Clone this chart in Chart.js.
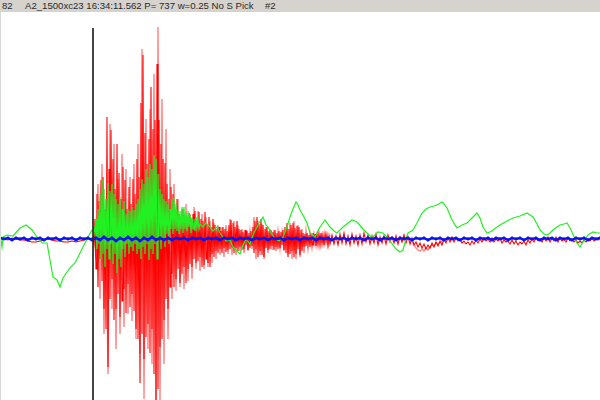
<!DOCTYPE html>
<html>
<head>
<meta charset="utf-8">
<script src="https://cdn.jsdelivr.net/npm/chart.js@4/dist/chart.umd.min.js"></script>
<style>
  html, body { margin: 0; padding: 0; background: #ffffff; }
  #wrap { position: relative; width: 600px; height: 400px; overflow: hidden; }
  #hdr { position: absolute; left: 0; top: 0; width: 600px; height: 12px; background: #d6d3ce;
         font-family: "Liberation Sans", Arial, sans-serif; font-size: 9.6px; color: #2a2a2a; }
  #hdr span { position: absolute; top: 0px; line-height: 12px; white-space: pre; }
  #plot { position: absolute; left: 0; top: 12px; width: 600px; height: 388px; }
  #edge { position: absolute; left: 0; top: 12px; width: 1px; height: 388px; background: #d8d8d8; }
  canvas { display: block; }
</style>
</head>
<body>
<div id="wrap">
  <div id="hdr"><span id="h1" style="left:2px"></span><span id="h2" style="left:25px"></span><span id="h3" style="left:265px"></span></div>
  <div id="plot"><canvas id="c" width="600" height="388"></canvas></div>
  <div id="edge"></div>
</div>
<script>
// ---- header texts ----
const headerTexts = ["82", "A2_1500xc23 16:34:11.562 P= 737 w=0.25 No S Pick", "#2"];

// ---- time axis (samples) ----
const timeMin = 0, timeMax = 600;
const ampMin = -161, ampMax = 227;

// P pick marker
const pickTime = [93, 93];
const pickAmp = [211, -161];

// ---- red trace (bright) ----
const redPreStart = 0, redPreStep = 4;
const redPre = [1,0,-1,1,0,-1,-1,-2,-3,-3,-2,-1,0,-1,-2,-2,-3,-3,-2,-3,-2,-1,0,1];
const redMainStart = 93, redMainStep = 1;
const redMain = [
  2,-4,20,-30,45,-48,38,-20,59,-42,
  62,-70,30,-90,122,-128,70,-60,109,-40,
  80,-81,50,-70,95,-55,66,-78,40,-62,
  72,-50,59,-74,30,-45,52,-68,35,-55,
  60,-72,45,-90,80,-100,62,-144,136,-95,
  184,-120,106,-98,75,-85,100,-114,152,-90,
  110,-135,119,-161,175,-150,119,-108,95,-100,
  80,-81,76,-60,55,-70,40,-48,52,-35,
  45,-48,30,-40,40,-30,25,-44,19,-35,
  30,-28,22,-44,18,-30,26,-25,20,-28,
  25,-20,28,-24,15,-22,27,-18,20,-28,
  18,-26,27,-20,15,-24,22,-28,12,-15,
  20,-18,14,-12,10,-14,12,-10,8,-14,
  12,-9,10,-13,8,-11,14,-10,19,-8,
  16,-14,12,-9,18,-12,10,-8,9,-11,
  7,-10,9,-6,8,-11,6,-9,8,-7,
  12,-14,18,-10,22,-18,15,-12,20,-16,
  14,-18,10,-9,12,-11,8,-10,9,-7,
  7,-11,9,-8,6,-10,8,-9,7,-6,
  9,-11,12,-14,16,-18,10,-15,14,-12,
  16,-18,11,-15,13,-10,12,-16,9,-12,
  6,-8,5,-7,6,-5,4,-8,5,-6,
  6,-4,5,-7,3,-6,5,-4,6,-5,
  4,-6,5,-3,4,-6,3,-5
];
const redTailStart = 332, redTailStep = 2;
const redTail = [
  4,-5,3,-6,5,-4,6,-5,3,-6,
  5,-4,3,-6,4,-5,6,-3,4,-5,
  3,-4,5,-6,2,-4,3,-5,4,-3,
  2,-4,3,-5,2,-3,4,-4,2,-5,
  1,-6,-3,-8,-4,-9,-5,-10,-6,-9,
  -4,-8,-3,-7,-2,-6,0,-4,1,-3,
  2,-3,1,-2,0,-4,-2,-5,-3,-6,
  -2,-5,-1,-4,0,-3,1,-2,0,-3,
  1,-3,0,-2,1,-4,-1,-3,-2,-5,
  -1,-5,-2,-6,-3,-5,-2,-6,-1,-4,
  0,-3,1,-2,0,-3,1,-2,2,-3,
  1,-2,2,-3,1,-2,0,-3,1,-2,
  0,-3,-1,-4,-2,-4,-1,-3,0,-2,
  1,-2,0,-1,1
];

// ---- pink trace (light red) ----
const pinkMainStart = 94, pinkMainStep = 2;
const pinkMain = [
  10,-20,55,-60,75,-95,40,-135,115,-70,
  95,-110,60,-95,85,-88,70,-75,62,-82,
  75,-100,95,-115,190,-160,120,-110,130,-125,
  165,-161,212,-161,140,-125,110,-100,70,-60,
  55,-52,40,-48,30,-50,35,-42,25,-40,
  32,-30,28,-32,25,-30,22,-28,18,-24,
  16,-20,14,-16,12,-18,14,-15,20,-16,
  18,-16,14,-12,10,-14,9,-12,8,-10,
  22,-20,18,-16,15,-20,12,-14,10,-11,
  9,-12,8,-10,7,-12,10,-15,16,-20,
  18,-20,14,-18,10,-14,8,-10,6,-9,
  5,-7,6,-8,4,-6,5,-7,4
];
const pinkTailStart = 412, pinkTailStep = 2;
const pinkTail = [-2,-6,-9,-11,-12,-10,-12,-9,-11,-8,-6,-7,-4,-5,-3,-2,-1];

// ---- green trace ----
const greenPreTime = [0,2,3,7,13,20,26,32,37,42,47,50,53,57,60,63,67,70,75,80,85,88,92];
const greenPre = [6,-8,2,4,3,11,14,9,2,-4,-4,-21,-38,-41,-48,-39,-33,-29,-24,-14,-4,2,9];
const greenMainStart = 93, greenMainStep = 1;
const greenMain = [
  9,12,5,20,-10,30,-5,45,-20,59,
  -15,50,-28,40,-10,56,-20,48,-5,55,
  -25,45,-15,40,-34,35,-20,42,-28,30,
  -10,38,-18,25,-5,30,-15,28,-8,32,
  -12,29,-5,35,-15,40,-10,50,-20,60,
  -8,55,-15,70,-5,62,-21,75,-10,70,
  -15,84,-5,80,-20,65,0,50,-10,45,
  0,40,-8,38,5,35,-5,30,10,40,
  5,42,10,35,8,30,5,28,10,32,
  6,32,10,26,8,28,12,24,6,22,
  10,20,8,22,12,19,10,15
];
const greenPostTime = [203,206,210,213,217,220,223,226,230,233,237,240,243,246,250,253,256,259,263,266,268,271,275,279,283,287,290,293,296,298,300,304,307,310,315,320,325,330,334,337,343,348,352,355,358,363,367,372,378,383,388,393,396,400,403,406,408,413,417,422,426,430,434,437,442,444,447,450,452,457,462,467,472,477,480,483,487,490,493,497,500,507,513,520,527,530,533,537,540,544,547,550,553,557,560,564,567,570,572,575,577,580,583,586,588,593,597,600];
const greenPost = [12,16,12,8,12,6,2,-2,-1,-8,-12,-15,-6,0,-5,4,10,16,22,14,12,6,0,-2,2,12,22,30,37,34,29,22,16,6,2,12,19,12,8,6,12,16,19,18,16,10,6,1,7,6,1,-6,-10,-13,-11,0,6,9,16,26,30,32,33,34,37,35,31,24,19,11,14,16,21,26,21,12,6,7,9,12,14,18,21,23,26,24,22,15,9,5,4,6,9,12,14,15,16,11,7,0,-4,-8,-3,1,4,7,6,6];

// ---- blue trace ----
const blueStart = 0, blueStep = 4;
const blue = [
  1,0,1,-1,1,0,1,-1,1,0,
  1,-1,1,0,1,-1,1,0,1,-1,
  1,0,1,-1,1,-1,2,-1,1,-2,
  1,-1,2,-1,1,-2,1,-1,2,-1,
  1,-1,1,-1,1,0,1,-1,1,0,
  1,-1,1,0,1,-1,1,0,1,-1,
  1,0,1,-1,1,0,1,-1,1,0,
  1,-1,1,0,1,-1,1,0,1,-1,
  1,0,1,-1,1,0,1,-1,1,0,
  1,-1,1,0,1,-1,1,0,1,-1,
  1,0,1,-1,1,0,1,-1,1,0,
  1,-1,1,0,1,-1,1,0,1,-1,
  1,0,1,-1,1,0,1,-1,1,0,
  1,-1,1,0,1,-1,1,0,1,-1,
  1,0,1,-1,1,0,1,-1,1,0,
  1
];

// ---- build ----
document.getElementById('h1').textContent = headerTexts[0];
document.getElementById('h2').textContent = headerTexts[1];
document.getElementById('h3').textContent = headerTexts[2];

function stepPts(start, step, vals) { return vals.map((v, i) => ({x: start + i * step, y: v})); }
function pairPts(ts, vals) { return vals.map((v, i) => ({x: ts[i], y: v})); }

const redPts = stepPts(redPreStart, redPreStep, redPre)
  .concat(stepPts(redMainStart, redMainStep, redMain))
  .concat(stepPts(redTailStart, redTailStep, redTail));
const pinkPts1 = stepPts(pinkMainStart, pinkMainStep, pinkMain);
const pinkPts2 = stepPts(pinkTailStart, pinkTailStep, pinkTail);
const greenPts = pairPts(greenPreTime, greenPre)
  .concat(stepPts(greenMainStart, greenMainStep, greenMain))
  .concat(pairPts(greenPostTime, greenPost));
const bluePts = stepPts(blueStart, blueStep, blue);
const pickPts = pairPts(pickTime, pickAmp);

const base = {pointRadius: 0, tension: 0, fill: false, borderJoinStyle: 'miter'};
new Chart(document.getElementById('c'), {
  type: 'line',
  data: {
    datasets: [
      Object.assign({}, base, {label: 'pick', data: pickPts, borderColor: '#2a2a2a', borderWidth: 1, order: 0}),
      Object.assign({}, base, {label: 'blue', data: bluePts, borderColor: '#0a14f0', borderWidth: 2.5, order: 1,
        pointRadius: 1.4, pointBackgroundColor: '#0a14f0', pointBorderWidth: 0}),
      Object.assign({}, base, {label: 'green', data: greenPts, borderColor: '#22f022', borderWidth: 1.2, order: 2}),
      Object.assign({}, base, {label: 'red', data: redPts, borderColor: '#ff0000', borderWidth: 1.1, order: 3}),
      Object.assign({}, base, {label: 'pink1', data: pinkPts1, borderColor: '#ff8a8a', borderWidth: 1.5, order: 4}),
      Object.assign({}, base, {label: 'pink2', data: pinkPts2, borderColor: '#ff8a8a', borderWidth: 1.5, order: 4})
    ]
  },
  options: {
    responsive: false,
    animation: false,
    devicePixelRatio: 1,
    layout: {padding: 0, autoPadding: false},
    plugins: {legend: {display: false}, tooltip: {enabled: false}, title: {display: false}},
    scales: {
      x: {type: 'linear', min: timeMin, max: timeMax, display: false},
      y: {type: 'linear', min: ampMin, max: ampMax, display: false}
    }
  }
});
</script>
</body>
</html>
